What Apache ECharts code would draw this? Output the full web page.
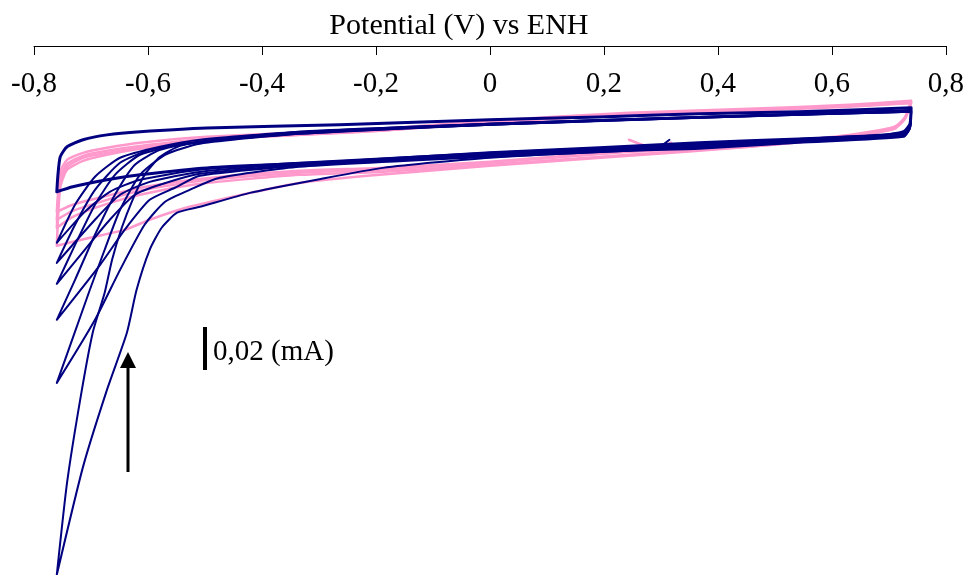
<!DOCTYPE html>
<html>
<head>
<meta charset="utf-8">
<script src="https://cdn.jsdelivr.net/npm/echarts@6/dist/echarts.min.js"></script>
<style>html,body{margin:0;padding:0;background:#fff}#c{width:967px;height:575px}</style>
</head>
<body>
<div id="c"></div>
<script>
// Potential (V vs ENH) / current (mA) pairs
const xTicks = [-0.8, -0.6, -0.4, -0.2, 0, 0.2, 0.4, 0.6, 0.8];

// navy cycles
const navyLoop = [[0.739,0.0208],[0.542,0.0189],[0.367,0.0180],[0.192,0.0165],[0.000,0.0151],[-0.264,0.0128],[-0.497,0.0113],[-0.614,0.0095],[-0.672,0.0080],[-0.714,0.0057],[-0.742,0.0024],[-0.754,-0.0024],[-0.758,-0.0109],[-0.760,-0.0189],[-0.732,-0.0165],[-0.672,-0.0132],[-0.614,-0.0109],[-0.497,-0.0076],[-0.264,-0.0047],[0.000,-0.0005],[0.192,0.0019],[0.367,0.0043],[0.542,0.0061],[0.683,0.0076],[0.726,0.0095],[0.737,0.0132],[0.739,0.0208]];
const navyC1 = [[0.739,0.0198],[0.737,0.0128],[0.726,0.0090],[0.542,0.0061],[0.367,0.0038],[0.000,-0.0005],[-0.334,-0.0052],[-0.509,-0.0085],[-0.614,-0.0132],[-0.667,-0.0189],[-0.711,-0.0284],[-0.760,-0.0430],[-0.728,-0.0250],[-0.693,-0.0118],[-0.649,-0.0028],[-0.579,0.0024],[-0.509,0.0057],[-0.334,0.0095],[0.000,0.0132],[0.367,0.0165],[0.739,0.0198]];
const navyC2 = [[0.739,0.0194],[0.737,0.0123],[0.726,0.0085],[0.542,0.0057],[0.367,0.0033],[0.000,-0.0009],[-0.334,-0.0057],[-0.509,-0.0095],[-0.597,-0.0142],[-0.649,-0.0203],[-0.693,-0.0321],[-0.760,-0.0525],[-0.728,-0.0345],[-0.693,-0.0180],[-0.649,-0.0052],[-0.597,0.0009],[-0.527,0.0043],[-0.334,0.0095],[0.000,0.0132],[0.367,0.0165],[0.739,0.0194]];
const navyC3 = [[0.739,0.0194],[0.737,0.0118],[0.726,0.0080],[0.542,0.0052],[0.367,0.0028],[0.000,-0.0014],[-0.334,-0.0061],[-0.509,-0.0104],[-0.579,-0.0156],[-0.623,-0.0203],[-0.667,-0.0321],[-0.711,-0.0463],[-0.760,-0.0624],[-0.728,-0.0440],[-0.693,-0.0250],[-0.658,-0.0109],[-0.614,-0.0014],[-0.544,0.0033],[-0.334,0.0090],[0.000,0.0128],[0.367,0.0161],[0.739,0.0194]];
const navyC4 = [[0.739,0.0189],[0.737,0.0113],[0.726,0.0076],[0.542,0.0047],[0.367,0.0024],[0.000,-0.0019],[-0.334,-0.0066],[-0.509,-0.0113],[-0.553,-0.0170],[-0.597,-0.0227],[-0.641,-0.0369],[-0.684,-0.0534],[-0.760,-0.0794],[-0.728,-0.0605],[-0.693,-0.0392],[-0.658,-0.0203],[-0.623,-0.0061],[-0.579,0.0009],[-0.509,0.0047],[-0.334,0.0085],[0.000,0.0128],[0.367,0.0161],[0.739,0.0189]];
const navyC5 = [[0.739,0.0189],[0.737,0.0113],[0.726,0.0076],[0.542,0.0047],[0.367,0.0019],[0.000,-0.0024],[-0.334,-0.0071],[-0.474,-0.0123],[-0.527,-0.0180],[-0.570,-0.0236],[-0.606,-0.0345],[-0.649,-0.0558],[-0.693,-0.0794],[-0.760,-0.1092],[-0.733,-0.0888],[-0.702,-0.0652],[-0.676,-0.0463],[-0.649,-0.0274],[-0.614,-0.0109],[-0.570,-0.0014],[-0.509,0.0038],[-0.334,0.0085],[0.000,0.0128],[0.367,0.0161],[0.739,0.0189]];
const navyC6 = [[0.739,0.0189],[0.737,0.0113],[0.726,0.0071],[0.542,0.0043],[0.367,0.0014],[0.244,0.0005],[0.000,-0.0028],[-0.188,-0.0076],[-0.304,-0.0132],[-0.421,-0.0194],[-0.509,-0.0260],[-0.549,-0.0288],[-0.576,-0.0359],[-0.597,-0.0463],[-0.620,-0.0652],[-0.637,-0.0855],[-0.672,-0.1125],[-0.714,-0.1489],[-0.760,-0.1999],[-0.742,-0.1564],[-0.719,-0.1172],[-0.697,-0.0855],[-0.676,-0.0666],[-0.663,-0.0510],[-0.646,-0.0359],[-0.627,-0.0227],[-0.606,-0.0109],[-0.579,-0.0024],[-0.544,0.0028],[-0.474,0.0061],[-0.334,0.0090],[0.000,0.0132],[0.367,0.0165],[0.739,0.0189]];
const navyStart = [[0.315,0.0057],[0.294,0.0014]];

// pink cycles
const pinkP1 = [[-0.760,-0.0444],[-0.702,-0.0406],[-0.641,-0.0369],[-0.597,-0.0321],[-0.527,-0.0260],[-0.421,-0.0194],[-0.334,-0.0147],[-0.194,-0.0109],[0.000,-0.0066],[0.244,-0.0019],[0.455,0.0024],[0.630,0.0071],[0.709,0.0109],[0.728,0.0156],[0.739,0.0231],[0.630,0.0217],[0.455,0.0198],[0.244,0.0180],[0.000,0.0142],[-0.194,0.0099],[-0.497,0.0057],[-0.614,0.0014],[-0.672,-0.0014],[-0.714,-0.0043],[-0.742,-0.0085],[-0.754,-0.0170],[-0.760,-0.0444]];
const pinkP2 = [[-0.760,-0.0359],[-0.732,-0.0307],[-0.672,-0.0246],[-0.614,-0.0203],[-0.509,-0.0151],[-0.334,-0.0109],[-0.194,-0.0095],[0.000,-0.0061],[0.244,-0.0014],[0.455,0.0024],[0.630,0.0071],[0.709,0.0109],[0.728,0.0156],[0.739,0.0231],[0.630,0.0213],[0.455,0.0194],[0.244,0.0175],[0.000,0.0137],[-0.194,0.0099],[-0.497,0.0057],[-0.614,0.0019],[-0.672,-0.0005],[-0.714,-0.0028],[-0.742,-0.0071],[-0.754,-0.0142],[-0.760,-0.0359]];
const pinkP3 = [[-0.760,-0.0321],[-0.732,-0.0279],[-0.672,-0.0227],[-0.614,-0.0184],[-0.509,-0.0137],[-0.334,-0.0099],[-0.194,-0.0085],[0.000,-0.0052],[0.244,0.0000],[0.455,0.0028],[0.630,0.0076],[0.709,0.0113],[0.728,0.0161],[0.739,0.0236],[0.630,0.0217],[0.455,0.0198],[0.244,0.0180],[0.000,0.0142],[-0.194,0.0104],[-0.497,0.0061],[-0.614,0.0028],[-0.672,0.0005],[-0.714,-0.0019],[-0.742,-0.0057],[-0.754,-0.0123],[-0.760,-0.0321]];
const pinkP4 = [[-0.760,-0.0284],[-0.732,-0.0250],[-0.672,-0.0208],[-0.614,-0.0170],[-0.509,-0.0128],[-0.334,-0.0090],[-0.194,-0.0076],[0.000,-0.0047],[0.244,0.0005],[0.455,0.0033],[0.630,0.0080],[0.709,0.0118],[0.728,0.0161],[0.739,0.0241],[0.630,0.0222],[0.455,0.0203],[0.244,0.0184],[0.000,0.0147],[-0.194,0.0109],[-0.497,0.0071],[-0.614,0.0043],[-0.672,0.0019],[-0.714,-0.0005],[-0.742,-0.0038],[-0.754,-0.0095],[-0.760,-0.0284]];
const pinkStart = [[0.244,0.0057],[0.294,0.0014],[0.318,0.0043]];

const NAVY = '#000080';
const PINK = '#ff99cc';
const FONT = 'Liberation Serif';

function lineSeries(data, color, width) {
  return {
    type: 'line', data: data, showSymbol: false, symbol: 'none', smooth: 0.2,
    lineStyle: { color: color, width: width, join: 'round', cap: 'round' },
    silent: true, animation: false, clip: false
  };
}

const series = [];
[pinkP1, pinkP2, pinkP3, pinkP4, pinkStart].forEach(d => series.push(lineSeries(d, PINK, 2.5)));
[navyC1, navyC2, navyC3, navyC4, navyC5, navyC6, navyStart].forEach(d => series.push(lineSeries(d, NAVY, 2)));
series.push(lineSeries(navyLoop, NAVY, 3));

const chart = echarts.init(document.getElementById('c'), null, { renderer: 'canvas' });
chart.setOption({
  animation: false,
  backgroundColor: '#fff',
  grid: { left: 34, right: 20, top: 46, bottom: 0, containLabel: false },
  xAxis: {
    type: 'value', position: 'top', min: xTicks[0], max: xTicks[xTicks.length - 1], interval: 0.2,
    name: 'Potential (V) vs ENH', nameLocation: 'middle', nameGap: -2,
    nameTextStyle: { fontFamily: FONT, fontSize: 30, color: '#000', padding: [0, 62, 0, 0] },
    axisLine: { show: true, onZero: false, lineStyle: { color: '#000', width: 1 } },
    axisTick: { show: true, inside: true, length: 9, lineStyle: { color: '#000', width: 1 } },
    axisLabel: {
      inside: true, margin: 24, fontFamily: FONT, fontSize: 29, color: '#000',
      showMinLabel: true, showMaxLabel: true,
      formatter: v => Math.abs(v) < 1e-9 ? '0' : (+v).toFixed(1).replace('.', ',')
    },
    splitLine: { show: false }
  },
  yAxis: { type: 'value', min: -0.2, max: 0.05, show: false, splitLine: { show: false } },
  series: series,
  graphic: [
    { type: 'rect', shape: { x: 203, y: 327, width: 4, height: 43 }, style: { fill: '#000' } },
    { type: 'text', x: 213, y: 352, style: { text: '0,02 (mA)', font: '29px "Liberation Serif"', fill: '#000', textVerticalAlign: 'middle', verticalAlign: 'middle' } },
    { type: 'line', shape: { x1: 128, y1: 472, x2: 128, y2: 362 }, style: { stroke: '#000', lineWidth: 3 } },
    { type: 'polygon', shape: { points: [[128, 352], [120, 368], [136, 368]] }, style: { fill: '#000' } }
  ]
});
</script>
</body>
</html>
